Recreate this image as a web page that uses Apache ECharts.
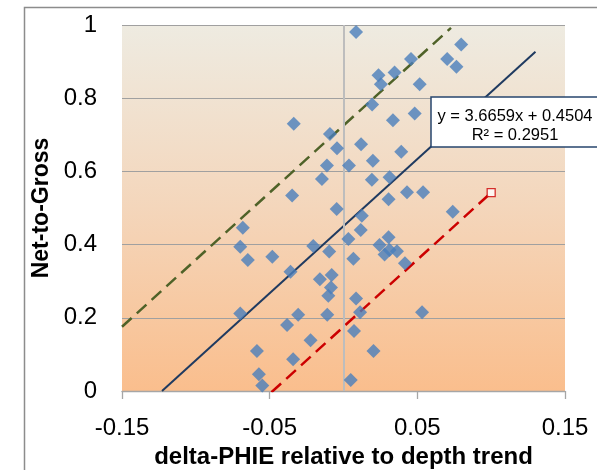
<!DOCTYPE html>
<html>
<head>
<meta charset="utf-8">
<script src="https://cdn.jsdelivr.net/npm/echarts@6/dist/echarts.min.js"></script>
<style>
html,body{margin:0;padding:0;background:#fff;}
#c{width:597px;height:470px;}
</style>
</head>
<body>
<div id="c"></div>
<script>
// ---- data ----
var deltaPhie = [0.0085,0.0797,0.0457,0.0702,0.0765,0.0237,0.0346,0.0253,0.0516,0.0194,
  0.0335,0.0482,0.0119,-0.0044,-0.0092,-0.0112,0.0037,-0.0146,-0.0337,-0.0348,
  -0.0046,0.0199,0.0391,0.0192,0.0312,0.0305,0.0430,0.0539,0.0740,0.0124,
  0.0117,0.0033,0.0305,0.0244,0.0278,0.0312,0.0362,0.0416,0.0067,0.0085,
  0.0112,0.0532,0.0071,0.0203,0.0049,-0.0682,-0.0699,-0.0648,-0.0482,-0.0205,
  -0.0097,-0.0359,-0.0160,-0.0080,-0.0085,-0.0103,-0.0699,-0.0307,-0.0382,-0.0110,
  -0.0223,-0.0586,-0.0341,-0.0573,-0.0550];
var netToGross = [0.981,0.947,0.907,0.907,0.886,0.863,0.870,0.838,0.838,0.783,
  0.740,0.758,0.674,0.663,0.702,0.616,0.616,0.579,0.730,0.534,
  0.497,0.629,0.654,0.577,0.584,0.524,0.543,0.543,0.490,0.479,
  0.440,0.415,0.420,0.399,0.373,0.385,0.382,0.349,0.361,0.253,
  0.215,0.215,0.164,0.109,0.030,0.446,0.394,0.358,0.367,0.396,
  0.381,0.326,0.305,0.317,0.283,0.260,0.212,0.208,0.180,0.208,
  0.139,0.109,0.087,0.046,0.015];
var trendSlope = 3.6659, trendIntercept = 0.4504, trendR2 = 0.2951;
var bandOffset = 0.275;
var trendXRange = [-0.1229, 0.13];
var upperXRange = [-0.15, 0.0728];
var lowerXRange = [-0.0488, 0.10];
var xTicks = [-0.15, -0.05, 0.05, 0.15];
var yTicks = [0, 0.2, 0.4, 0.6, 0.8, 1];

function lineFrom(xr, off){
  return xr.map(function(x){ return [x, trendSlope*x + trendIntercept + off]; });
}
var pts = deltaPhie.map(function(x,i){ return [x, netToGross[i]]; });

var chart = echarts.init(document.getElementById('c'), null, {renderer:'canvas'});
var FONT = '"Liberation Sans", Arial, sans-serif';
chart.setOption({
  animation:false,
  backgroundColor:'#ffffff',
  grid:{left:122, right:32, top:25, bottom:79, show:true, borderWidth:0,
    outerBoundsMode:'none', containLabel:false,
    backgroundColor:{type:'linear',x:0,y:0,x2:0,y2:1,colorStops:[
      {offset:0,color:'#EEEBE1'},{offset:0.5,color:'#F4D6BB'},{offset:1,color:'#FABE8D'}]}},
  xAxis:{type:'value', min:xTicks[0], max:xTicks[xTicks.length-1], interval:0.1,
    name:'delta-PHIE relative to depth trend', nameLocation:'middle', nameGap:52,
    nameTextStyle:{fontFamily:FONT, fontWeight:'bold', fontSize:24, color:'#000'},
    axisLine:{onZero:false, lineStyle:{color:'#a6a6a6', width:1.3}},
    axisTick:{show:true, inside:false, length:8, lineStyle:{color:'#a6a6a6', width:1.3}},
    axisLabel:{fontFamily:FONT, fontSize:24, color:'#000', margin:25,
      formatter:function(v){ return (+v).toFixed(2); }},
    splitLine:{show:false}},
  yAxis:{type:'value', min:yTicks[0], max:yTicks[yTicks.length-1], interval:0.2,
    name:'Net-to-Gross', nameLocation:'middle', nameGap:68, nameRotate:90,
    nameTextStyle:{fontFamily:FONT, fontWeight:'bold', fontSize:23, color:'#000'},
    axisLine:{show:false, onZero:false}, axisTick:{show:false},
    axisLabel:{fontFamily:FONT, fontSize:24, color:'#000', margin:25,
      formatter:function(v){ return String(+(+v).toFixed(2)); }},
    splitLine:{show:true, lineStyle:{color:'#a0a0a0', width:1}}},
  series:[
    {type:'line', data:lineFrom(trendXRange,0), showSymbol:false, symbol:'none',
      lineStyle:{color:'#1F3A60', width:2}, z:3,
      markLine:{silent:true, symbol:['none','none'], label:{show:false},
        lineStyle:{color:'#bdbdbd', width:2, type:'solid'}, data:[{xAxis:0}]}},
    {type:'line', data:lineFrom(upperXRange,bandOffset), symbol:'none',
      lineStyle:{color:'#4F6228', width:2.5, type:[13,7]}, z:3},
    {type:'line', data:lineFrom(lowerXRange,-bandOffset), symbol:'none',
      lineStyle:{color:'#CC0000', width:2.5, type:[13,7]}, z:3},
    {type:'scatter', data:[lineFrom(lowerXRange,-bandOffset)[1]], symbol:'rect', symbolSize:8,
      itemStyle:{color:'#ffffff', borderColor:'#CC0000', borderWidth:1.3}, z:4},
    {type:'scatter', data:pts, symbol:'diamond', symbolSize:14,
      itemStyle:{color:'#4A7EBB'}, z:5}
  ],
  graphic:[
    {type:'rect', left:22, top:5, shape:{width:620, height:520}, silent:true,
      style:{fill:'none', stroke:'#8c8c8c', lineWidth:1.5}},
    {type:'rect', x:431, y:97, shape:{width:168, height:50}, z:10,
      style:{fill:'#ffffff', stroke:'#27466e', lineWidth:1.5}},
    {type:'text', x:515, y:116, z:11, style:{text:'y = ' + trendSlope.toFixed(4) + 'x + ' + trendIntercept.toFixed(4),
      fontFamily:FONT, fontSize:16.5, fill:'#000', align:'center', verticalAlign:'middle'}},
    {type:'text', x:515, y:135, z:11, style:{text:'R² = ' + trendR2.toFixed(4),
      fontFamily:FONT, fontSize:16.5, fill:'#000', align:'center', verticalAlign:'middle'}}
  ]
});
</script>
</body>
</html>
